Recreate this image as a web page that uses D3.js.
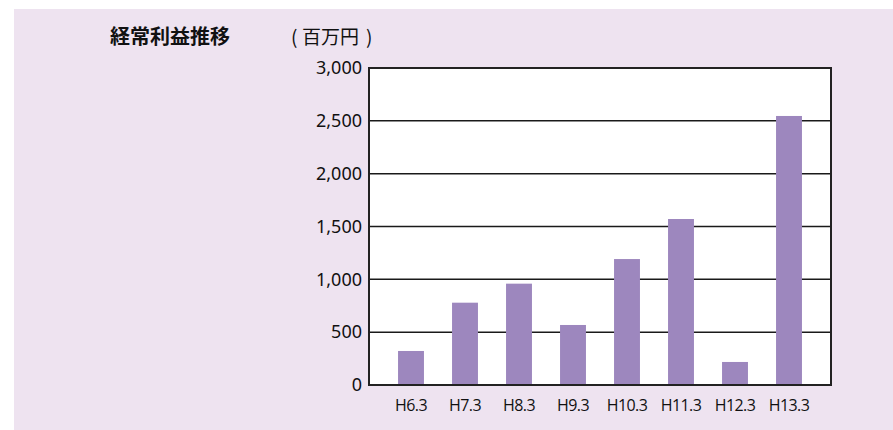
<!DOCTYPE html>
<html>
<head>
<meta charset="utf-8">
<script src="https://cdn.jsdelivr.net/npm/d3@7"></script>
<style>
  body { margin: 0; background: #fff; }
</style>
</head>
<body>
<div id="chart"></div>
<script>
// data
const periods = ["H6.3", "H7.3", "H8.3", "H9.3", "H10.3", "H11.3", "H12.3", "H13.3"];
const profits = [322, 779, 959, 568, 1192, 1571, 218, 2546];
const yTicks = [0, 500, 1000, 1500, 2000, 2500, 3000];

const width = 893, height = 430;
const plot = { left: 369, right: 831, top: 68, bottom: 385 };

const svg = d3.select("#chart")
  .append("svg")
    .attr("width", width)
    .attr("height", height);

// background panel
svg.append("rect")
  .attr("x", 14).attr("y", 9)
  .attr("width", width - 14).attr("height", height - 9)
  .attr("fill", "#eee3f0");

// plot area
svg.append("rect")
  .attr("x", plot.left).attr("y", plot.top)
  .attr("width", plot.right - plot.left)
  .attr("height", plot.bottom - plot.top)
  .attr("fill", "#fff");

const x = d3.scaleBand()
  .domain(periods)
  .range([plot.left + 15, plot.right - 15])
  .paddingInner(0.52)
  .paddingOuter(0.26);

const y = d3.scaleLinear()
  .domain([0, 3000])
  .range([plot.bottom, plot.top]);

// gridlines
svg.append("g")
  .selectAll("line")
  .data(yTicks.slice(1, -1))
  .join("line")
    .attr("x1", plot.left).attr("x2", plot.right)
    .attr("y1", d => y(d)).attr("y2", d => y(d))
    .attr("stroke", "#1a1a1a")
    .attr("stroke-width", 1.5);

// bars
svg.append("g")
  .selectAll("rect")
  .data(profits)
  .join("rect")
    .attr("x", (d, i) => x(periods[i]))
    .attr("y", d => y(d))
    .attr("width", x.bandwidth())
    .attr("height", d => y(0) - y(d))
    .attr("fill", "#9d87be");

// frame
svg.append("rect")
  .attr("x", plot.left).attr("y", plot.top)
  .attr("width", plot.right - plot.left)
  .attr("height", plot.bottom - plot.top)
  .attr("fill", "none")
  .attr("stroke", "#222")
  .attr("stroke-width", 2);

// y axis labels
const yAxis = d3.axisLeft(y)
  .tickValues(yTicks)
  .tickFormat(d3.format(","))
  .tickSize(0)
  .tickPadding(7);

svg.append("g")
  .attr("transform", `translate(${plot.left},0)`)
  .call(yAxis)
  .call(g => g.select(".domain").remove())
  .selectAll("text")
    .attr("fill", "#111")
    .style("font-family", "'Noto Sans', 'Open Sans', sans-serif")
    .style("font-size", "18px");

// x axis labels
const xAxis = d3.axisBottom(x)
  .tickSize(0)
  .tickPadding(15);

svg.append("g")
  .attr("transform", `translate(0,${plot.bottom})`)
  .call(xAxis)
  .call(g => g.select(".domain").remove())
  .selectAll("text")
    .attr("fill", "#111")
    .style("font-family", "'Open Sans', 'Noto Sans', sans-serif")
    .style("font-size", "16px")
    .style("letter-spacing", "-0.6px");

// title
svg.append("text")
  .attr("x", 110).attr("y", 44)
  .text("経常利益推移")
  .style("font-family", "'Noto Sans CJK JP', sans-serif")
  .style("font-weight", 700)
  .style("font-size", "20px")
  .attr("fill", "#111");

// unit
const unit = svg.append("text")
  .attr("y", 44)
  .style("font-family", "'Noto Sans CJK JP', sans-serif")
  .style("font-size", "19px")
  .attr("fill", "#111");
unit.append("tspan").attr("x", 291).text("(");
unit.append("tspan").attr("x", 302).text("百万円");
unit.append("tspan").attr("x", 366).text(")");
</script>
</body>
</html>
